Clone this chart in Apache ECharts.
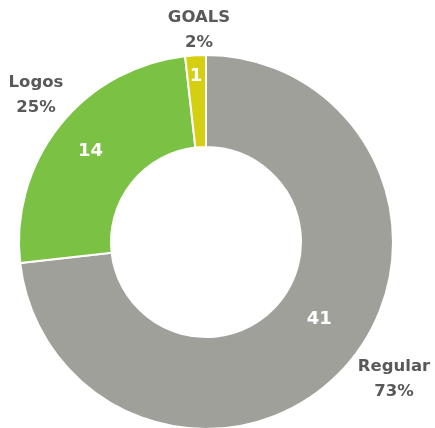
<!DOCTYPE html>
<html>
<head>
<meta charset="utf-8">
<script src="https://cdn.jsdelivr.net/npm/echarts@6/dist/echarts.min.js"></script>
<style>html,body{margin:0;padding:0;background:#fff;}#c{width:435px;height:428px;}</style>
</head>
<body>
<div id="c"></div>
<script>
const categories = ['Regular', 'Logos', 'GOALS'];
const values = [41, 14, 1];
const colors = ['#A0A09B', '#7BC143', '#D4CF10'];

const innerOffsets = [[6, -19], [-3, -1], [-2, -22]];
const outerPos = [[394, 379], [36, 95], [199, 30]];

const data = categories.map((c, i) => ({ name: c, value: values[i], itemStyle: { color: colors[i] } }));
const FONT = '"DejaVu Sans", sans-serif';

const chart = echarts.init(document.getElementById('c'), null, { renderer: 'canvas' });
chart.setOption({
  animation: false,
  backgroundColor: '#ffffff',
  series: [
    {
      type: 'pie',
      center: [206, 242],
      radius: [95, 187],
      startAngle: 90,
      clockwise: true,
      percentPrecision: 0,
      avoidLabelOverlap: false,
      itemStyle: { borderColor: '#ffffff', borderWidth: 2 },
      label: {
        show: true,
        position: 'inside',
        formatter: '{c}',
        color: '#ffffff',
        fontSize: 18,
        fontWeight: 'bold',
        fontFamily: FONT
      },
      labelLine: { show: false },
      labelLayout: function (p) {
        const o = innerOffsets[p.dataIndex];
        return { dx: o[0], dy: o[1] };
      },
      data: data
    },
    {
      type: 'pie',
      silent: true,
      center: [206, 242],
      radius: [95, 187],
      startAngle: 90,
      clockwise: true,
      percentPrecision: 0,
      avoidLabelOverlap: false,
      itemStyle: { color: 'rgba(0,0,0,0)', borderWidth: 0 },
      label: {
        show: true,
        position: 'outside',
        formatter: '{b}\n{d}%',
        color: '#595959',
        fontSize: 16.5,
        lineHeight: 25,
        fontWeight: 'bold',
        fontFamily: FONT,
        align: 'center'
      },
      labelLine: { show: false },
      labelLayout: function (p) {
        const o = outerPos[p.dataIndex];
        return { x: o[0], y: o[1], align: 'center', verticalAlign: 'middle' };
      },
      data: categories.map((c, i) => ({ name: c, value: values[i] }))
    }
  ]
});
</script>
</body>
</html>
